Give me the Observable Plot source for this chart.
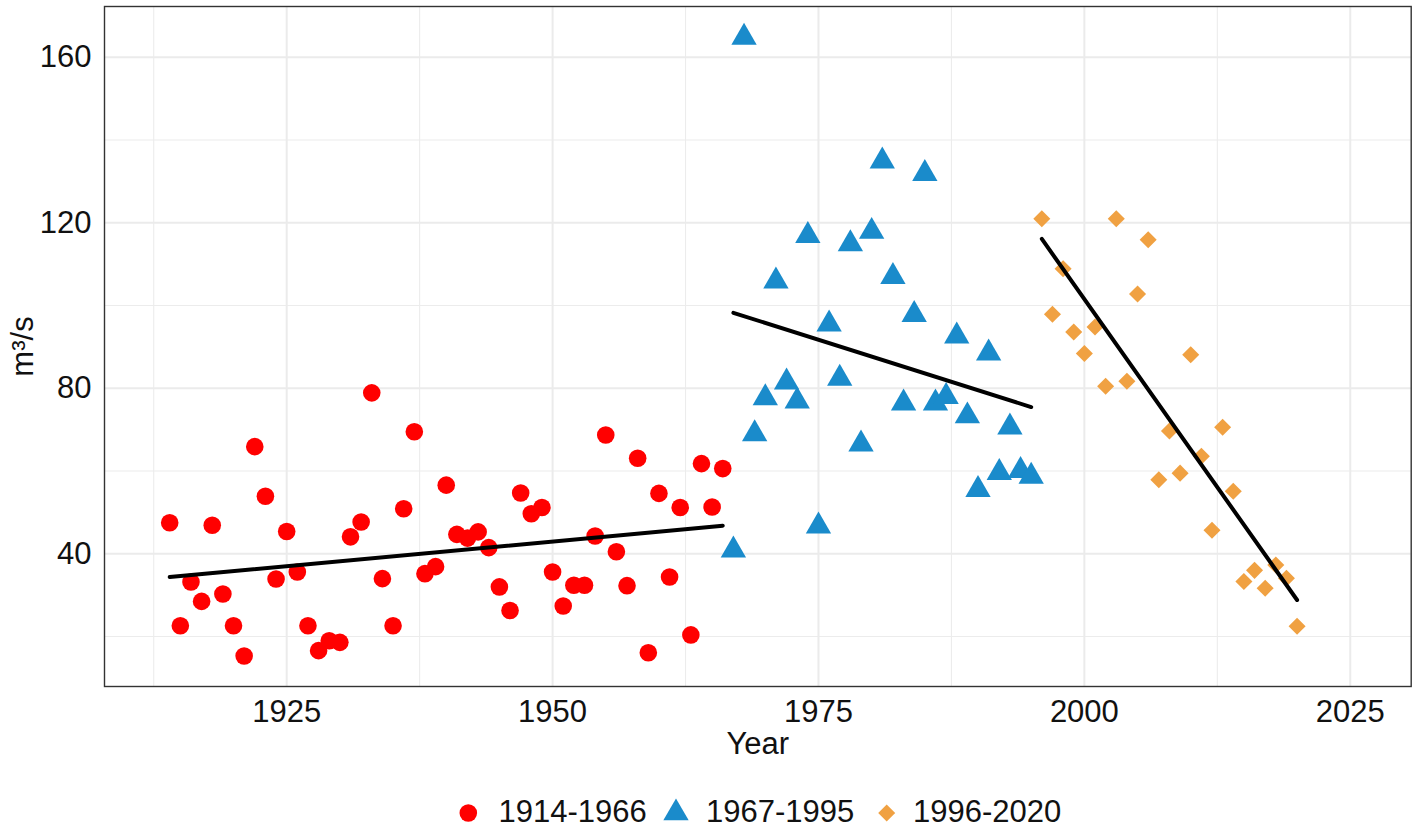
<!DOCTYPE html>
<html>
<head>
<meta charset="utf-8">
<script src="https://cdn.jsdelivr.net/npm/d3@7"></script>
<script src="https://cdn.jsdelivr.net/npm/@observablehq/plot@0.6"></script>
<style>
  html, body { margin: 0; padding: 0; background: #fff; }
  #chart { width: 1417px; font-family: "Liberation Sans", Arial, sans-serif; }
  #legend { display: block; }
</style>
</head>
<body>
<div id="chart"></div>
<script>
// ---- Data ----
const periods = ["1914-1966", "1967-1995", "1996-2020"];
const periodColors = ["#ff0000", "#1a8bcb", "#f0a142"];

const years1 = [1914,1915,1916,1917,1918,1919,1920,1921,1922,1923,1924,1925,1926,1927,1928,1929,1930,
  1931,1932,1933,1934,1935,1936,1937,1938,1939,1940,1941,1942,1943,1944,1945,1946,1947,1948,1949,1950,
  1951,1952,1953,1954,1955,1956,1957,1958,1959,1960,1961,1962,1963,1964,1965,1966];
const flow1 = [47.5,22.6,33.2,28.5,46.9,30.3,22.6,15.3,65.9,53.9,33.9,45.4,35.6,22.6,16.6,19.0,18.6,
  44.1,47.7,78.9,34.0,22.6,50.9,69.5,35.2,36.9,56.6,44.7,43.8,45.3,41.5,32.0,26.3,54.7,49.7,51.2,35.6,
  27.4,32.4,32.4,44.3,68.7,40.5,32.3,63.1,16.1,54.6,34.4,51.2,20.4,61.8,51.3,60.6];

const years2 = [1967,1968,1969,1970,1971,1972,1973,1974,1975,1976,1977,1978,1979,1980,1981,1982,1983,
  1984,1985,1986,1987,1988,1989,1990,1991,1992,1993,1994,1995];
const flow2 = [40.9,164.8,69.0,77.7,105.9,81.5,76.9,116.9,46.7,95.5,82.4,114.9,66.5,117.9,134.9,107.0,
  76.4,97.8,131.9,76.4,78.0,92.6,73.3,55.5,88.5,59.6,70.6,60.1,58.7];

const years3 = [1996,1997,1998,1999,2000,2001,2002,2003,2004,2005,2006,2007,2008,2009,2010,2011,2012,
  2013,2014,2015,2016,2017,2018,2019,2020];
const flow3 = [121.0,97.9,108.9,93.6,88.4,94.8,80.5,121.0,81.7,102.8,115.9,57.9,69.7,59.5,88.1,63.6,
  45.7,70.6,55.1,33.3,36.0,31.7,37.3,34.1,22.5];

const xMajorTicks = [1925, 1950, 1975, 2000, 2025];
const xMinorTicks = [1912.5, 1937.5, 1962.5, 1987.5, 2012.5];
const yMajorTicks = [40, 80, 120, 160];
const yMinorTicks = [20, 60, 100, 140];
const xLabel = "Year";
const yLabel = "m³/s";

// ---- Build tables ----
const toRows = (ys, vs, p) => ys.map((y, i) => ({year: y, flow: vs[i], period: p}));
const rows1 = toRows(years1, flow1, periods[0]);
const rows2 = toRows(years2, flow2, periods[1]);
const rows3 = toRows(years3, flow3, periods[2]);
const allRows = [...rows1, ...rows2, ...rows3];

// square rotated 45° (ggplot shape 18)
const diamond = {
  draw(context, size) {
    const s = Math.sqrt(size / 2);
    context.moveTo(0, -s);
    context.lineTo(s, 0);
    context.lineTo(0, s);
    context.lineTo(-s, 0);
    context.closePath();
  }
};

const FS = 31;
const W = 1417, H = 770;
const chart = Plot.plot({
  width: W,
  height: H,
  marginLeft: 104,
  marginRight: 6.3,
  marginTop: 6,
  marginBottom: 84,
  style: {fontFamily: "'Liberation Sans', Arial, sans-serif", fontSize: FS + "px", color: "#111", background: "#fff"},
  x: {domain: [1907.87, 2030.73]},
  y: {domain: [7.93, 172.28]},
  marks: [
    Plot.gridX(xMinorTicks, {stroke: "#ececec", strokeOpacity: 1, strokeWidth: 1.1}),
    Plot.gridY(yMinorTicks, {stroke: "#ececec", strokeOpacity: 1, strokeWidth: 1.1}),
    Plot.gridX(xMajorTicks, {stroke: "#ebebeb", strokeOpacity: 1, strokeWidth: 2}),
    Plot.gridY(yMajorTicks, {stroke: "#ebebeb", strokeOpacity: 1, strokeWidth: 2}),
    Plot.dot(rows1, {x: "year", y: "flow", symbol: "circle", r: 8.8, fill: periodColors[0], stroke: "none"}),
    Plot.dot(rows2, {x: "year", y: "flow", symbol: "triangle", r: 9.4, fill: periodColors[1], stroke: "none"}),
    Plot.dot(rows3, {x: "year", y: "flow", symbol: diamond, r: 6.8, fill: periodColors[2], stroke: "none"}),
    Plot.linearRegressionY(allRows, {x: "year", y: "flow", z: "period", stroke: "black", strokeWidth: 4, ci: 0}),
    Plot.frame({stroke: "#333", strokeWidth: 1.4}),
    Plot.axisX(xMajorTicks, {tickSize: 0, tickPadding: 13, fontSize: FS, label: null, fill: "#111", tickFormat: d => String(d)}),
    Plot.axisY(yMajorTicks, {tickSize: 0, tickPadding: 13, fontSize: FS, label: null, fill: "#111", tickFormat: d => String(d)}),
    Plot.text([xLabel], {frameAnchor: "bottom", dy: 58, textAnchor: "middle", lineAnchor: "middle", fontSize: FS, fill: "#111"}),
    Plot.text([yLabel], {frameAnchor: "left", dx: -81.6, rotate: -90, textAnchor: "middle", lineAnchor: "middle", fontSize: FS, fill: "#111"})
  ]
});
document.getElementById("chart").appendChild(chart);

// ---- Legend (below the plot) ----
const legendItems = [
  {label: periods[0], color: periodColors[0], sym: d3.symbolCircle, size: Math.PI * 8.8 * 8.8, sx: 468.3, tx: 498.5},
  {label: periods[1], color: periodColors[1], sym: d3.symbolTriangle, size: Math.PI * 9.4 * 9.4, sx: 676, tx: 706},
  {label: periods[2], color: periodColors[2], sym: diamond, size: Math.PI * 6.8 * 6.8, sx: 886.7, tx: 913}
];
const legend = d3.create("svg")
  .attr("id", "legend")
  .attr("width", W)
  .attr("height", 60)
  .attr("font-family", "'Liberation Sans', Arial, sans-serif")
  .attr("font-size", FS);
const g = legend.selectAll("g").data(legendItems).join("g");
g.append("path")
  .attr("transform", d => `translate(${d.sx},43)`)
  .attr("d", d => d3.symbol(d.sym, d.size)())
  .attr("fill", d => d.color);
g.append("text")
  .attr("x", d => d.tx)
  .attr("y", 52)
  .attr("fill", "#111")
  .text(d => d.label);
document.getElementById("chart").appendChild(legend.node());
</script>
</body>
</html>
